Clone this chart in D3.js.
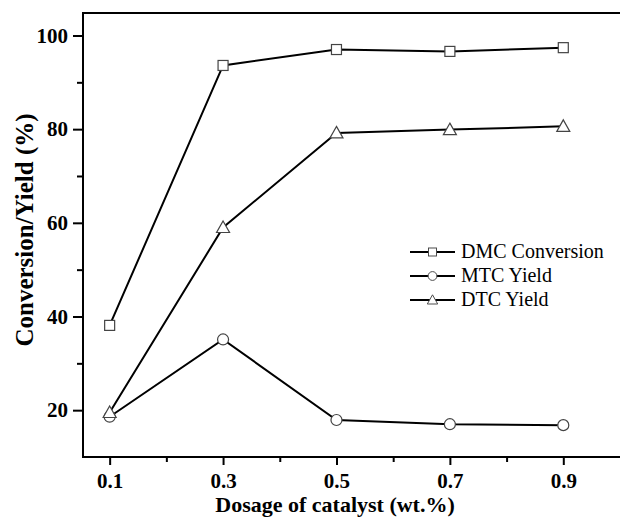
<!DOCTYPE html>
<html>
<head>
<meta charset="utf-8">
<script src="https://cdn.jsdelivr.net/npm/d3@7"></script>
<style>
  body { margin: 0; background: #fff; }
  svg { display: block; overflow: hidden; }
  .tick text { font-family: "Liberation Serif", "Times New Roman", serif; font-weight: bold; font-size: 21px; fill: #000; }
</style>
</head>
<body>
<script>
// data
var dosage   = [0.1, 0.3, 0.5, 0.7, 0.9];
var dmcConv  = [38.1, 93.6, 97.0, 96.6, 97.4];
var mtcYield = [18.6, 35.1, 17.9, 17.0, 16.8];
var dtcYield = [19.5, 59.0, 79.2, 79.9, 80.6];
var seriesNames = ['DMC Conversion', 'MTC Yield', 'DTC Yield'];
var xTicks = [0.1, 0.3, 0.5, 0.7, 0.9];
var xMinor = [0.2, 0.4, 0.6, 0.8];
var yTicks = [20, 40, 60, 80, 100];
var yMinor = [30, 50, 70, 90];

var W = 620, H = 520,
    plotLeft = 83, plotTop = 13, plotRight = 620, plotBottom = 457;

var svg = d3.select('body').append('svg')
    .attr('width', W)
    .attr('height', H);

// Scales
var x = d3.scaleLinear().domain([0.053, 1.0]).range([plotLeft, plotRight]);
var y = d3.scaleLinear().domain([10, 104.8]).range([plotBottom, plotTop]);

// Frame (right side runs past the picture edge)
svg.append('rect')
    .attr('x', plotLeft).attr('y', plotTop)
    .attr('width', plotRight + 10 - plotLeft).attr('height', plotBottom - plotTop)
    .style('fill', 'none').style('stroke', '#000').style('stroke-width', 2);

// X axis
svg.append('g')
    .attr('transform', 'translate(0,' + plotBottom + ')')
    .call(d3.axisBottom(x).tickValues(xTicks).tickSize(8).tickPadding(8).tickFormat(d3.format('.1f')));
svg.append('g')
    .attr('transform', 'translate(0,' + plotBottom + ')')
    .call(d3.axisBottom(x).tickValues(xMinor).tickSize(5).tickFormat(''));

// Y axis
svg.append('g')
    .attr('transform', 'translate(' + plotLeft + ',0)')
    .call(d3.axisLeft(y).tickValues(yTicks).tickSize(10).tickPadding(5));
svg.append('g')
    .attr('transform', 'translate(' + plotLeft + ',0)')
    .call(d3.axisLeft(y).tickValues(yMinor).tickSize(6).tickFormat(''));

svg.selectAll('.domain').remove();
svg.selectAll('.tick line').style('stroke', '#000').style('stroke-width', 2);

// Axis titles
svg.append('text')
    .attr('x', 335).attr('y', 512)
    .attr('text-anchor', 'middle')
    .style('font-family', '"Liberation Serif", serif')
    .style('font-weight', 'bold').style('font-size', '22px')
    .text('Dosage of catalyst (wt.%)');

svg.append('text')
    .attr('transform', 'translate(33,230) rotate(-90)')
    .attr('text-anchor', 'middle')
    .style('font-family', '"Liberation Serif", serif')
    .style('font-weight', 'bold').style('font-size', '25px')
    .text('Conversion/Yield (%)');

// Markers
function marker(g, shape) {
    if (shape == 'square') {
        g.append('rect').attr('x', -5).attr('y', -5).attr('width', 10).attr('height', 10);
    } else if (shape == 'circle') {
        g.append('circle').attr('r', 5.5);
    } else {
        g.append('path').attr('d', 'M0,-6.5 L6.5,5 L-6.5,5 Z');
    }
    g.selectAll('*').style('fill', '#fff').style('stroke', '#444').style('stroke-width', 1.2);
}

var series = [
    { name: seriesNames[0], values: dmcConv, shape: 'square' },
    { name: seriesNames[1], values: mtcYield, shape: 'circle' },
    { name: seriesNames[2], values: dtcYield, shape: 'triangle' }
];

var line = d3.line()
    .x(function(d, i) { return x(dosage[i]); })
    .y(function(d) { return y(d); });

series.forEach(function(s) {
    svg.append('path')
        .attr('d', line(s.values))
        .style('fill', 'none').style('stroke', '#000').style('stroke-width', 2);
});
series.forEach(function(s) {
    s.values.forEach(function(v, i) {
        var g = svg.append('g').attr('transform', 'translate(' + x(dosage[i]) + ',' + y(v) + ')');
        marker(g, s.shape);
    });
});

// Legend
series.forEach(function(s, i) {
    var ly = 252 + i * 24;
    svg.append('line')
        .attr('x1', 410).attr('x2', 455).attr('y1', ly).attr('y2', ly)
        .style('stroke', '#000').style('stroke-width', 2);
    var g = svg.append('g');
    marker(g, s.shape);
    g.attr('transform', 'translate(432.5,' + ly + ') scale(0.8)');
    svg.append('text')
        .attr('x', 461).attr('y', ly + 6)
        .style('font-family', '"Liberation Serif", serif')
        .style('font-size', '20px')
        .text(s.name);
});
</script>
</body>
</html>
